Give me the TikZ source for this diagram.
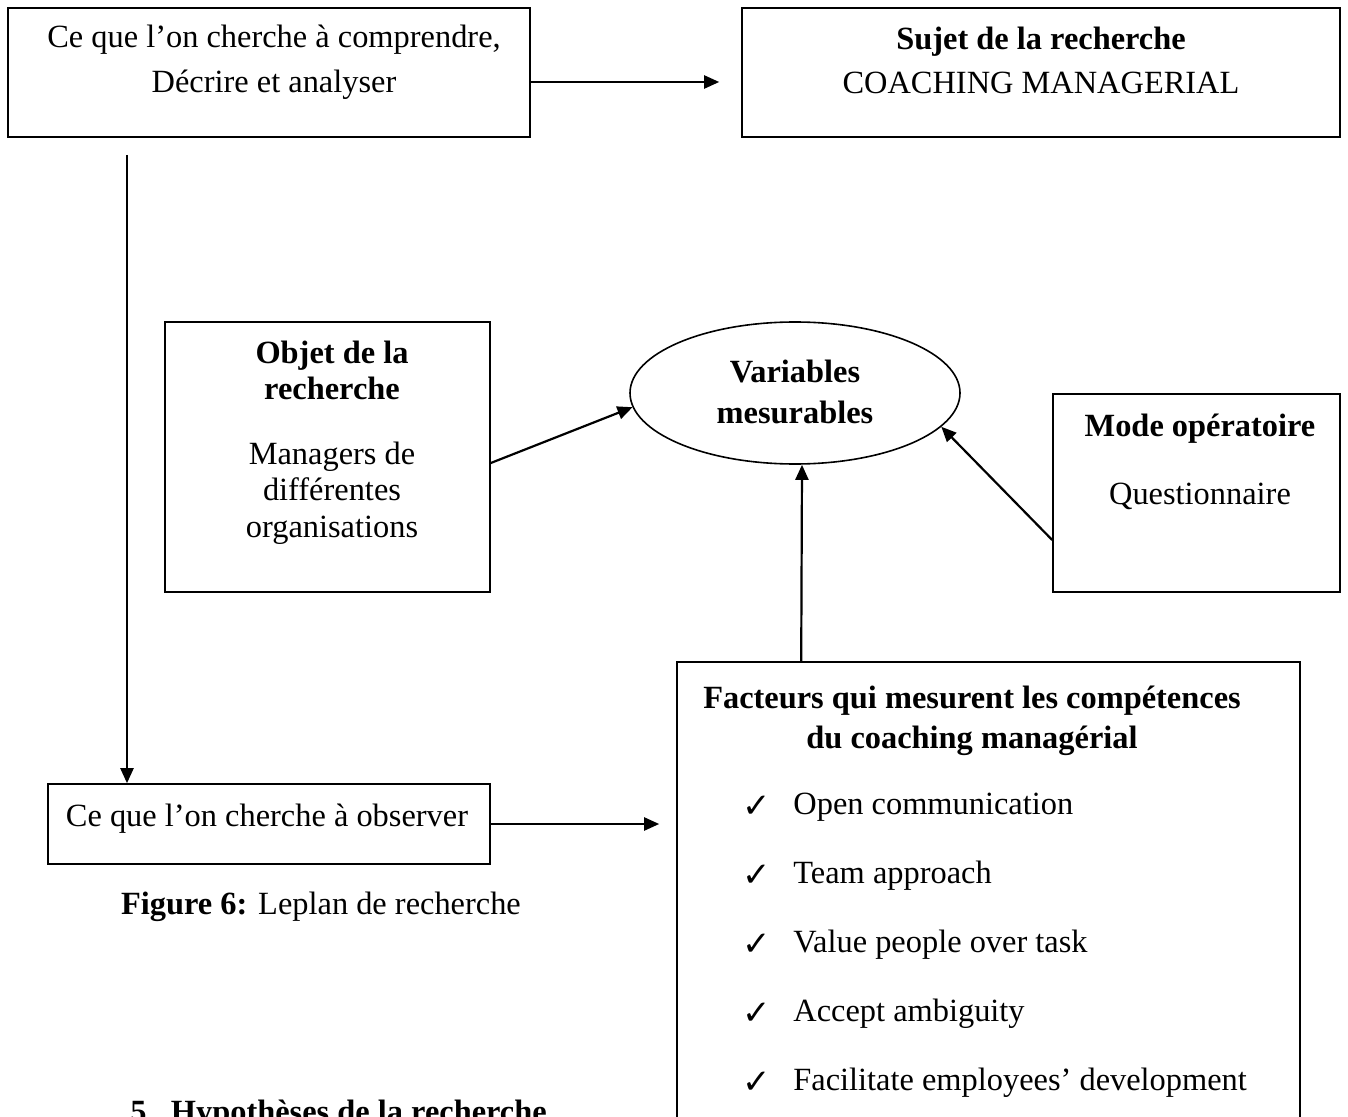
\documentclass[tikz,border=0pt]{standalone}
\usepackage{fontspec}
\setmainfont{Liberation Serif}
\newfontfamily\symfont{DejaVu Sans}
\usetikzlibrary{arrows.meta,shapes.geometric}
\begin{document}
\begin{tikzpicture}[x=0.5pt,y=-0.5pt,
  box/.style={draw,line width=0.8pt,inner sep=0pt},
  txt/.style={inner sep=0pt,yshift=-3pt,text height=0.7em,text depth=0.2em,font=\fontsize{16.2}{20}\selectfont},
  btxt/.style={txt,font=\fontsize{16.2}{20}\selectfont\bfseries},
  tick/.style={inner sep=0pt,yshift=-2pt,font=\fontsize{17}{20}\selectfont\symfont},
  arr/.style={line width=1.1pt,-{Triangle[length=7.5pt,width=6.5pt]}},
]
\useasboundingbox (0,0) rectangle (1348,1117);
\clip (0,0) rectangle (1348,1117);

% boxes
\node[box,minimum width=261pt,minimum height=64.5pt] (a) at (269,72.5) {};
\node[box,minimum width=299pt,minimum height=64.5pt] (b) at (1041,72.5) {};
\node[box,minimum width=162.5pt,minimum height=135pt] (o) at (327.5,457) {};
\node[box,minimum width=143.5pt,minimum height=99pt] (m) at (1196.5,493) {};
\node[box,minimum width=221pt,minimum height=40pt] (c) at (269,824) {};
\node[box,minimum width=311.5pt,minimum height=269pt] (f) at (988.5,931) {};
\node[draw,line width=0.8pt,ellipse,inner sep=0pt,minimum width=165pt,minimum height=71pt] (v) at (795,393) {};

% texts
\node[txt] (a1) at (274,37) {Ce que l’on cherche à comprendre,};
\node[txt] (a2) at (274,82) {Décrire et analyser};
\node[btxt] (b1) at (1041,39) {Sujet de la recherche};
\node[txt] (b2) at (1041,83) {COACHING MANAGERIAL};
\node[btxt] (o1) at (332,353) {Objet de la};
\node[btxt] (o2) at (332,389) {recherche};
\node[txt] (o3) at (332,453) {Managers de};
\node[txt] (o4) at (332,489) {différentes};
\node[txt] (o5) at (332,526) {organisations};
\node[btxt] (v1) at (795,371) {Variables};
\node[btxt] (v2) at (795,412) {mesurables};
\node[btxt] (m1) at (1200,426) {Mode opératoire};
\node[txt] (m2) at (1200,493) {Questionnaire};
\node[txt] (c1) at (267,815) {Ce que l’on cherche à observer};
\node[btxt] (f1) at (972,697) {Facteurs qui mesurent les compétences};
\node[btxt] (f2) at (972,737) {du coaching managérial};
\foreach \i/\y/\t in {1/803/Open communication,2/872/Team approach,3/941/Value people over task,4/1010/Accept ambiguity,5/1079/Facilitate employees’ development}{
  \node[tick] (k\i) at (757,\y) {✓};
  \node[txt,anchor=west] (p\i) at (793,\y) {\t};
}
\node[txt] (cap) at (321,903) {\textbf{Figure 6:} Leplan de recherche};
\node[inner sep=0pt,anchor=base west,font=\fontsize{16.2}{20}\selectfont\bfseries] (h5) at (130,1122) {5.\hspace{0.5em}Hypothèses de la recherche};

% connectors
\coordinate (vtop) at (127,155);
\draw[arr,shorten >=11pt] ([yshift=-4.75pt]a.east) -- ([yshift=-4.75pt]b.west);
\draw[arr] (vtop) -- (vtop |- c.north);
\draw[arr,shorten >=8.5pt] (c.east) -- (f.west |- c.east);
\draw[arr] ([yshift=-3pt]o.east) -- (v.185);
\draw[arr] ([yshift=-23.5pt]m.west) -- (v.347);
\draw[arr] ([xshift=62.5pt]f.north west) -- ([xshift=3.5pt]v.south);
\end{tikzpicture}
\end{document}
